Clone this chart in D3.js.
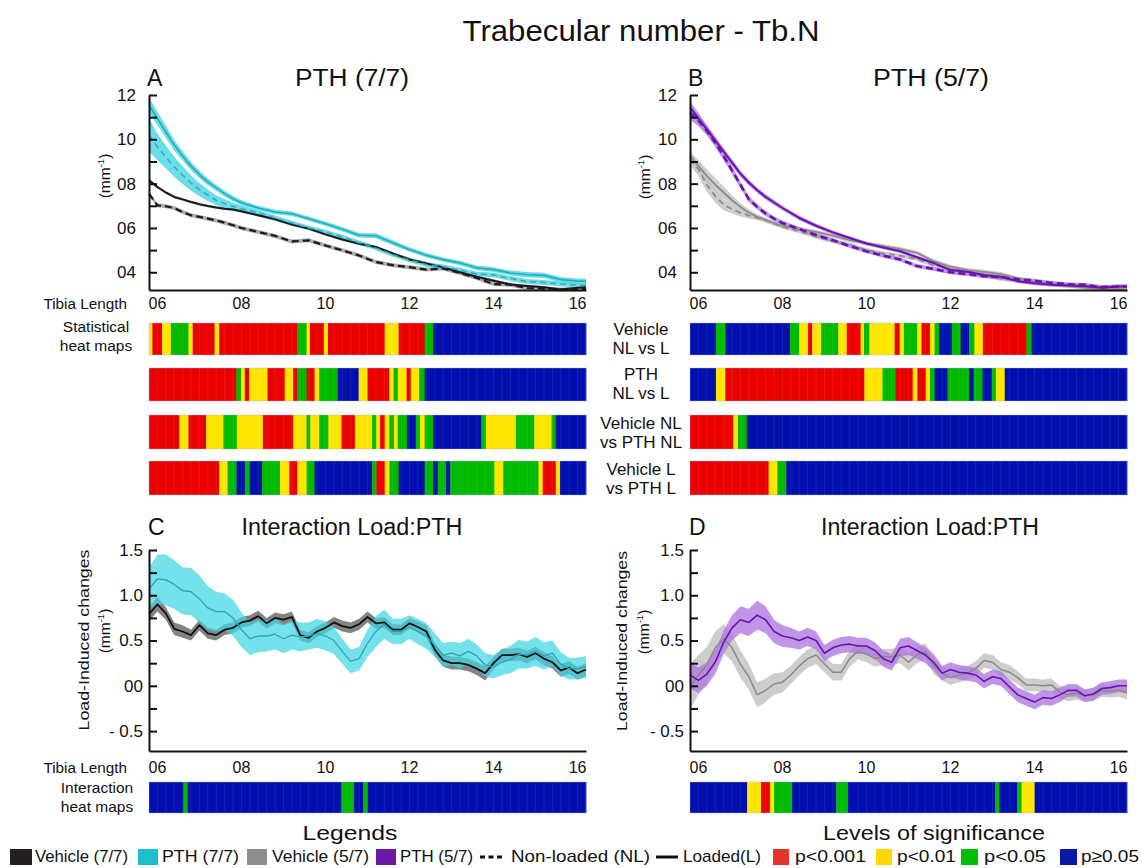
<!DOCTYPE html>
<html>
<head>
<meta charset="utf-8">
<script src="https://cdn.jsdelivr.net/npm/d3@7"></script>
<style>
  body { margin: 0; background: #fff; }
  svg { display: block; }
</style>
</head>
<body>
<svg id="fig" width="1142" height="868"></svg>
<script>
// ---- data ----
const xsTop = [5.8, 6.0, 6.2, 6.4, 6.6, 6.8, 7.0, 7.2, 7.4, 7.6, 7.8, 8.0, 8.4, 8.8, 9.2, 9.6, 10.0, 10.4, 10.8, 11.2, 11.6, 12.0, 12.4, 12.8, 13.2, 13.6, 14.0, 14.4, 14.8, 15.2, 15.6, 16.0, 16.2]

// panel A, PTH (7/7)
const vehL77 = [8.15, 7.85, 7.6, 7.4, 7.29, 7.17, 7.07, 6.99, 6.92, 6.87, 6.83, 6.75, 6.57, 6.39, 6.15, 5.97, 5.71, 5.48, 5.29, 5.14, 4.85, 4.58, 4.4, 4.22, 4.0, 3.8, 3.62, 3.45, 3.38, 3.32, 3.22, 3.3, 3.32]
const vehL77Sd = [0.08, 0.07, 0.06, 0.06, 0.06, 0.06, 0.06, 0.06, 0.06, 0.06, 0.06, 0.06, 0.06, 0.06, 0.06, 0.06, 0.06, 0.06, 0.06, 0.06, 0.06, 0.06, 0.07, 0.07, 0.07, 0.07, 0.06, 0.06, 0.06, 0.06, 0.06, 0.06, 0.06]
const vehNL77 = [7.55, 7.02, 6.98, 6.9, 6.72, 6.57, 6.5, 6.42, 6.34, 6.24, 6.12, 6.0, 5.82, 5.64, 5.39, 5.44, 5.21, 4.99, 4.76, 4.46, 4.32, 4.23, 4.12, 4.17, 3.97, 3.74, 3.47, 3.44, 3.29, 3.26, 3.22, 3.22, 3.25]
const vehNL77Sd = [0.1, 0.09, 0.09, 0.09, 0.09, 0.09, 0.09, 0.09, 0.09, 0.09, 0.09, 0.09, 0.09, 0.09, 0.09, 0.09, 0.09, 0.09, 0.09, 0.09, 0.09, 0.09, 0.09, 0.09, 0.09, 0.09, 0.09, 0.09, 0.09, 0.09, 0.09, 0.09, 0.09]
const pthL77 = [11.55, 10.94, 10.34, 9.74, 9.25, 8.79, 8.41, 8.08, 7.81, 7.55, 7.32, 7.14, 6.9, 6.72, 6.64, 6.42, 6.19, 5.94, 5.67, 5.65, 5.33, 5.03, 4.77, 4.57, 4.42, 4.2, 4.12, 3.97, 3.89, 3.86, 3.67, 3.6, 3.6]
const pthL77Sd = [0.35, 0.3, 0.27, 0.24, 0.21, 0.19, 0.17, 0.15, 0.14, 0.13, 0.12, 0.11, 0.1, 0.1, 0.1, 0.1, 0.1, 0.1, 0.1, 0.11, 0.11, 0.1, 0.1, 0.1, 0.1, 0.11, 0.11, 0.11, 0.12, 0.12, 0.12, 0.12, 0.12]
const pthNL77 = [10.2, 9.65, 9.2, 8.76, 8.38, 8.03, 7.73, 7.48, 7.25, 7.1, 6.98, 6.87, 6.68, 6.45, 6.22, 6.0, 5.82, 5.59, 5.33, 5.09, 4.8, 4.55, 4.35, 4.25, 4.1, 3.92, 3.88, 3.72, 3.58, 3.54, 3.47, 3.42, 3.42]
const pthNL77Sd = [0.75, 0.6, 0.52, 0.45, 0.4, 0.35, 0.3, 0.26, 0.22, 0.19, 0.16, 0.14, 0.12, 0.11, 0.1, 0.1, 0.1, 0.1, 0.1, 0.1, 0.1, 0.1, 0.1, 0.1, 0.1, 0.1, 0.11, 0.11, 0.11, 0.11, 0.11, 0.11, 0.11]

// panel B, PTH (5/7)
const vehL57 = [9.25, 8.8, 8.35, 7.95, 7.6, 7.25, 6.95, 6.7, 6.5, 6.35, 6.22, 6.1, 5.95, 5.82, 5.65, 5.45, 5.3, 5.18, 5.05, 4.88, 4.5, 4.25, 4.1, 4.02, 3.92, 3.72, 3.55, 3.45, 3.38, 3.3, 3.25, 3.22, 3.22]
const vehL57Sd = [0.22, 0.26, 0.3, 0.3, 0.27, 0.22, 0.17, 0.14, 0.12, 0.1, 0.1, 0.09, 0.09, 0.09, 0.09, 0.09, 0.09, 0.09, 0.09, 0.09, 0.09, 0.09, 0.09, 0.09, 0.09, 0.09, 0.09, 0.09, 0.09, 0.09, 0.09, 0.09, 0.09]
const vehNL57 = [9.1, 8.65, 7.95, 7.45, 7.05, 6.85, 6.68, 6.56, 6.46, 6.36, 6.2, 6.05, 5.85, 5.6, 5.4, 5.25, 5.0, 4.85, 4.75, 4.6, 4.32, 4.15, 4.02, 3.85, 3.7, 3.62, 3.55, 3.5, 3.42, 3.38, 3.3, 3.27, 3.28]
const vehNL57Sd = [0.25, 0.3, 0.32, 0.3, 0.26, 0.2, 0.16, 0.13, 0.11, 0.1, 0.1, 0.09, 0.09, 0.09, 0.09, 0.09, 0.09, 0.09, 0.09, 0.09, 0.09, 0.09, 0.09, 0.09, 0.09, 0.09, 0.09, 0.09, 0.09, 0.09, 0.09, 0.09, 0.09]
const pthL57 = [11.45, 10.95, 10.45, 9.95, 9.45, 8.95, 8.45, 8.05, 7.7, 7.4, 7.15, 6.9, 6.45, 6.1, 5.8, 5.55, 5.3, 5.12, 4.95, 4.68, 4.42, 4.1, 4.02, 3.88, 3.8, 3.6, 3.5, 3.44, 3.4, 3.37, 3.3, 3.36, 3.36]
const pthL57Sd = [0.28, 0.24, 0.2, 0.18, 0.16, 0.15, 0.14, 0.13, 0.12, 0.12, 0.11, 0.1, 0.1, 0.09, 0.09, 0.08, 0.08, 0.08, 0.08, 0.08, 0.08, 0.08, 0.08, 0.08, 0.08, 0.08, 0.08, 0.08, 0.08, 0.08, 0.09, 0.09, 0.09]
const pthNL57 = [11.2, 10.85, 10.4, 9.85, 9.25, 8.6, 7.95, 7.3, 6.95, 6.65, 6.42, 6.22, 5.95, 5.68, 5.45, 5.18, 4.95, 4.75, 4.58, 4.28, 4.15, 4.0, 3.92, 3.82, 3.78, 3.68, 3.62, 3.52, 3.46, 3.43, 3.33, 3.36, 3.36]
const pthNL57Sd = [0.3, 0.26, 0.22, 0.2, 0.18, 0.16, 0.15, 0.14, 0.12, 0.11, 0.1, 0.1, 0.09, 0.09, 0.09, 0.09, 0.09, 0.09, 0.09, 0.09, 0.09, 0.09, 0.09, 0.09, 0.09, 0.09, 0.09, 0.09, 0.09, 0.09, 0.09, 0.09, 0.09]

// panels C and D, load-induced changes
const xsInt = [5.8, 6.0, 6.2, 6.4, 6.6, 6.8, 7.0, 7.2, 7.4, 7.6, 7.8, 8.0, 8.2, 8.4, 8.6, 8.8, 9.0, 9.2, 9.4, 9.6, 9.8, 10.0, 10.2, 10.4, 10.6, 10.8, 11.0, 11.2, 11.4, 11.6, 11.8, 12.0, 12.2, 12.4, 12.6, 12.8, 13.0, 13.2, 13.4, 13.6, 13.8, 14.0, 14.2, 14.4, 14.6, 14.8, 15.0, 15.2, 15.4, 15.6, 15.8, 16.0, 16.2]
const intVeh77 = [0.79, 0.9, 0.8, 0.63, 0.6, 0.56, 0.67, 0.58, 0.56, 0.62, 0.64, 0.7, 0.72, 0.77, 0.69, 0.75, 0.73, 0.76, 0.56, 0.53, 0.6, 0.64, 0.7, 0.66, 0.64, 0.68, 0.76, 0.69, 0.7, 0.62, 0.62, 0.69, 0.65, 0.6, 0.4, 0.28, 0.25, 0.25, 0.23, 0.19, 0.14, 0.25, 0.34, 0.34, 0.35, 0.32, 0.36, 0.3, 0.26, 0.17, 0.2, 0.14, 0.18]
const intVeh77Sd = [0.08, 0.08, 0.07, 0.07, 0.07, 0.06, 0.06, 0.06, 0.06, 0.06, 0.06, 0.06, 0.06, 0.06, 0.06, 0.06, 0.06, 0.06, 0.06, 0.06, 0.06, 0.06, 0.06, 0.06, 0.06, 0.06, 0.06, 0.06, 0.06, 0.06, 0.06, 0.06, 0.06, 0.07, 0.07, 0.07, 0.07, 0.07, 0.07, 0.07, 0.08, 0.07, 0.07, 0.07, 0.07, 0.07, 0.07, 0.07, 0.07, 0.07, 0.07, 0.07, 0.07]
const intPth77 = [1.07, 1.18, 1.17, 1.12, 1.05, 1.04, 0.96, 0.86, 0.82, 0.82, 0.75, 0.62, 0.52, 0.55, 0.55, 0.57, 0.52, 0.56, 0.54, 0.55, 0.58, 0.55, 0.5, 0.38, 0.27, 0.3, 0.47, 0.6, 0.68, 0.6, 0.6, 0.65, 0.6, 0.55, 0.45, 0.34, 0.36, 0.33, 0.38, 0.33, 0.23, 0.21, 0.26, 0.29, 0.35, 0.34, 0.38, 0.33, 0.36, 0.24, 0.19, 0.19, 0.21]
const intPth77Sd = [0.23, 0.27, 0.28, 0.27, 0.26, 0.26, 0.26, 0.24, 0.22, 0.2, 0.2, 0.19, 0.18, 0.18, 0.17, 0.17, 0.16, 0.16, 0.16, 0.15, 0.16, 0.16, 0.15, 0.14, 0.13, 0.13, 0.15, 0.17, 0.16, 0.14, 0.14, 0.13, 0.14, 0.14, 0.13, 0.13, 0.13, 0.14, 0.14, 0.13, 0.13, 0.13, 0.14, 0.15, 0.16, 0.15, 0.16, 0.15, 0.14, 0.13, 0.12, 0.12, 0.12]
const intVeh57 = [-0.01, 0.12, 0.23, 0.42, 0.52, 0.42, 0.24, 0.1, -0.1, -0.05, 0.02, 0.04, 0.12, 0.22, 0.3, 0.34, 0.24, 0.15, 0.15, 0.3, 0.38, 0.35, 0.3, 0.32, 0.32, 0.34, 0.26, 0.34, 0.38, 0.22, 0.14, 0.09, 0.12, 0.14, 0.19, 0.28, 0.26, 0.18, 0.15, 0.09, 0.01, 0.01, 0, 0.01, -0.07, -0.1, -0.08, -0.11, -0.1, -0.05, -0.06, -0.05, -0.08]
const intVeh57Sd = [0.25, 0.22, 0.2, 0.18, 0.16, 0.15, 0.15, 0.14, 0.14, 0.13, 0.12, 0.11, 0.1, 0.1, 0.1, 0.1, 0.09, 0.09, 0.09, 0.09, 0.09, 0.09, 0.09, 0.09, 0.09, 0.09, 0.09, 0.09, 0.09, 0.09, 0.08, 0.08, 0.08, 0.08, 0.08, 0.08, 0.08, 0.08, 0.08, 0.07, 0.07, 0.07, 0.07, 0.07, 0.07, 0.07, 0.07, 0.07, 0.07, 0.07, 0.07, 0.07, 0.07]
const intPth57 = [0.12, 0.06, 0.13, 0.26, 0.48, 0.64, 0.73, 0.7, 0.78, 0.73, 0.6, 0.55, 0.53, 0.5, 0.54, 0.5, 0.36, 0.42, 0.45, 0.46, 0.44, 0.44, 0.39, 0.3, 0.26, 0.42, 0.44, 0.39, 0.34, 0.26, 0.14, 0.18, 0.15, 0.14, 0.12, 0.05, 0.1, 0.08, -0.01, -0.1, -0.14, -0.18, -0.13, -0.14, -0.1, -0.05, -0.05, -0.11, -0.09, -0.03, -0.02, 0, 0]
const intPth57Sd = [0.15, 0.14, 0.13, 0.13, 0.13, 0.14, 0.15, 0.15, 0.16, 0.15, 0.13, 0.12, 0.11, 0.1, 0.1, 0.1, 0.09, 0.09, 0.09, 0.09, 0.09, 0.09, 0.09, 0.09, 0.09, 0.1, 0.1, 0.09, 0.09, 0.09, 0.08, 0.08, 0.08, 0.08, 0.08, 0.08, 0.08, 0.08, 0.08, 0.08, 0.08, 0.08, 0.08, 0.08, 0.08, 0.07, 0.07, 0.07, 0.07, 0.07, 0.07, 0.07, 0.07]

// heat maps: runs of [end tibia length, level], each row starts at 5.8
const heatA = [
  [[5.88, "Y"], [6.11, "R"], [6.32, "Y"], [6.74, "G"], [6.84, "Y"], [7.36, "R"], [7.47, "Y"], [9.33, "R"], [9.55, "G"], [9.63, "Y"], [9.96, "R"], [10.06, "Y"], [11.41, "R"], [11.74, "Y"], [12.36, "R"], [12.56, "G"], [16.2, "B"]],
  [[7.88, "R"], [7.99, "G"], [8.08, "Y"], [8.18, "R"], [8.62, "Y"], [9.03, "R"], [9.23, "Y"], [9.33, "R"], [9.55, "G"], [9.74, "R"], [9.85, "Y"], [10.29, "G"], [10.79, "B"], [11.0, "Y"], [11.52, "R"], [11.62, "Y"], [11.72, "G"], [11.93, "Y"], [12.03, "R"], [12.23, "Y"], [12.36, "G"], [16.2, "B"]],
  [[6.52, "R"], [6.74, "Y"], [7.16, "R"], [7.57, "Y"], [7.89, "G"], [8.51, "Y"], [9.23, "R"], [9.55, "Y"], [9.64, "G"], [9.85, "Y"], [10.07, "G"], [10.38, "Y"], [10.7, "R"], [11.11, "Y"], [11.21, "G"], [11.3, "Y"], [11.41, "R"], [11.52, "Y"], [11.63, "G"], [11.72, "Y"], [11.94, "G"], [12.15, "B"], [12.25, "G"], [12.36, "Y"], [12.56, "G"], [13.71, "B"], [13.82, "G"], [14.53, "Y"], [14.97, "G"], [15.38, "Y"], [15.48, "G"], [16.2, "B"]],
  [[7.47, "R"], [7.67, "Y"], [7.88, "G"], [8.08, "B"], [8.19, "G"], [8.49, "B"], [8.92, "G"], [9.14, "Y"], [9.33, "R"], [9.55, "Y"], [9.74, "G"], [11.11, "B"], [11.21, "G"], [11.41, "R"], [11.52, "Y"], [11.74, "G"], [12.36, "B"], [12.56, "G"], [12.67, "B"], [12.87, "G"], [12.97, "B"], [14.02, "G"], [14.23, "Y"], [15.07, "G"], [15.17, "Y"], [15.48, "R"], [15.58, "Y"], [16.2, "B"]]
]
const heatB = [
  [[6.42, "B"], [6.64, "G"], [8.18, "B"], [8.4, "G"], [8.61, "Y"], [8.71, "R"], [8.92, "Y"], [9.33, "G"], [9.53, "Y"], [9.86, "R"], [9.94, "Y"], [10.07, "G"], [10.67, "Y"], [10.79, "R"], [10.89, "Y"], [11.21, "G"], [11.31, "Y"], [11.51, "R"], [11.62, "Y"], [11.73, "G"], [12.03, "B"], [12.24, "G"], [12.44, "B"], [12.57, "G"], [12.77, "Y"], [13.81, "R"], [13.93, "G"], [16.2, "B"]],
  [[6.42, "B"], [6.64, "Y"], [9.95, "R"], [10.38, "Y"], [10.69, "G"], [11.1, "R"], [11.21, "Y"], [11.41, "R"], [11.51, "Y"], [11.62, "G"], [11.93, "B"], [12.44, "G"], [12.55, "B"], [12.76, "G"], [12.98, "B"], [13.08, "G"], [13.29, "Y"], [16.2, "B"]],
  [[6.83, "R"], [6.94, "Y"], [7.15, "G"], [16.2, "B"]],
  [[7.67, "R"], [7.88, "Y"], [8.09, "G"], [16.2, "B"]]
]
const heatIntC = [[6.62, "B"], [6.72, "G"], [10.38, "B"], [10.68, "G"], [10.9, "B"], [11.0, "G"], [16.2, "B"]]
const heatIntD = [[7.16, "B"], [7.49, "Y"], [7.7, "R"], [7.8, "Y"], [8.23, "G"], [9.28, "B"], [9.56, "G"], [13.06, "B"], [13.16, "G"], [13.59, "B"], [13.69, "G"], [14.0, "Y"], [16.2, "B"]]

const heatLabelsB = [["Vehicle", "NL vs L"], ["PTH", "NL vs L"], ["Vehicle NL", "vs PTH NL"], ["Vehicle L", "vs PTH L"]]

const xTickValues = [6, 8, 10, 12, 14, 16]
const xTickLabels = ["06", "08", "10", "12", "14", "16"]
const topTickValues = [4, 5, 6, 7, 8, 9, 10, 11, 12]
const topTickLabels = ["04", "", "06", "", "08", "", "10", "", "12"]
const intTickValues = [-0.5, -0.25, 0, 0.25, 0.5, 0.75, 1, 1.25, 1.5]
const intTickLabels = ["- 0.5", "", "00", "", "0.5", "", "1.0", "", "1.5"]

const legendLabels = ["Vehicle (7/7)", "PTH (7/7)", "Vehicle (5/7)", "PTH (5/7)", "Non-loaded (NL)", "Loaded(L)", "p<0.001", "p<0.01", "p<0.05", "p\u22650.05"]

// ---- drawing ----
const FONT = '"Liberation Sans", Arial, Helvetica, sans-serif'
const svg = d3.select("#fig").attr("font-family", FONT)

const sigColor = { R: "#eb0000", Y: "#ffe600", G: "#00ba00", B: "#0010ae" }
const st = {
  veh77: { line: "#1a1a1a", band: "#8a8a8a", op: 0.7 },
  pth77: { line: "#28aab8", band: "#45d6e2", op: 0.8 },
  veh57: { line: "#8c8c8c", band: "#c2c2c2", op: 0.8 },
  pth57: { line: "#6a14b0", band: "#b27ade", op: 0.8 }
}

const xA = d3.scaleLinear().domain([5.8, 16.2]).range([149, 586])
const xB = d3.scaleLinear().domain([5.8, 16.2]).range([690, 1127])
const yTop = d3.scaleLinear().domain([3.2, 12]).range([290, 95])
const yInt = d3.scaleLinear().domain([-0.72, 1.5]).range([751, 550])

function txt(x, y, s, size, anchor, width) {
  const t = svg.append("text").attr("x", x).attr("y", y).attr("font-size", size)
    .attr("text-anchor", anchor || "start").attr("fill", "#111").text(s)
  if (width) t.attr("textLength", width).attr("lengthAdjust", "spacingAndGlyphs")
  return t
}

function vtxt(x, y, size, width, parts) {
  const t = svg.append("text").attr("transform", `translate(${x},${y}) rotate(-90)`)
    .attr("font-size", size).attr("text-anchor", "middle").attr("fill", "#111")
  if (width) t.attr("textLength", width).attr("lengthAdjust", "spacingAndGlyphs")
  parts(t)
  return t
}

function mmUnit(t) {
  t.append("tspan").text("(mm")
  t.append("tspan").attr("font-size", "0.62em").attr("dy", -6).text("-1")
  t.append("tspan").attr("dy", 6).text(")")
}

function band(g, x, y, xs, vals, sd, s) {
  const pts = xs.map((t, i) => ({ t, v: vals[i], s: sd[i] }))
  g.append("path").datum(pts)
    .attr("fill", s.band).attr("fill-opacity", s.op)
    .attr("d", d3.area().x(d => x(d.t)).y0(d => y(d.v - d.s)).y1(d => y(d.v + d.s)))
}

function line(g, x, y, xs, vals, color, width, dash) {
  g.append("path").datum(xs.map((t, i) => ({ t, v: vals[i] })))
    .attr("fill", "none").attr("stroke", color).attr("stroke-width", width)
    .attr("stroke-dasharray", dash || null).attr("stroke-linejoin", "round")
    .attr("d", d3.line().x(d => x(d.t)).y(d => y(d.v)))
}

function yAxis(x, y, values, labels, pad) {
  const g = svg.append("g").attr("transform", `translate(${x.range()[0]},0)`)
    .call(d3.axisLeft(y).tickValues(values).tickSize(-8).tickSizeOuter(0).tickPadding(pad)
      .tickFormat(d => labels[values.indexOf(d)]))
  g.select(".domain").attr("stroke", "#111").attr("stroke-width", 2)
  g.selectAll(".tick line").attr("stroke", "#111").attr("stroke-width", 2)
  g.selectAll("text").attr("font-size", 17).attr("font-family", FONT).attr("fill", "#111")
}

function xAxis(x, yPos) {
  svg.append("g").attr("transform", `translate(0,${yPos})`)
    .call(d3.axisBottom(x).tickValues([]).tickSizeOuter(0))
    .select(".domain").attr("stroke", "#111").attr("stroke-width", 2)
}

function xLabels(x, yBase) {
  xTickValues.forEach((v, i) => txt(x(v), yBase, xTickLabels[i], 16, "middle"))
}

function heatRow(x, y0, y1, runs) {
  const g = svg.append("g")
  let start = 5.8
  runs.forEach(([end, code]) => {
    g.append("rect").attr("x", x(start)).attr("y", y0)
      .attr("width", x(end) - x(start) + 0.4).attr("height", y1 - y0).attr("fill", sigColor[code])
    start = end
  })
  // faint cell dividers
  d3.range(6.0, 16.2, 0.2).forEach(v => {
    g.append("line").attr("x1", x(v)).attr("x2", x(v)).attr("y1", y0).attr("y2", y1)
      .attr("stroke", "#ffffff").attr("stroke-opacity", 0.08).attr("stroke-width", 1)
  })
  g.append("rect").attr("x", x(5.8)).attr("y", y0).attr("width", x(16.2) - x(5.8)).attr("height", y1 - y0)
    .attr("fill", "none").attr("stroke", "#a9b2ee").attr("stroke-opacity", 0.5).attr("stroke-width", 0.8)
}

// title
txt(641, 41, "Trabecular number - Tb.N", 30, "middle", 357)

// ---- panel A ----
txt(147, 86, "A", 23)
txt(352, 86, "PTH (7/7)", 23, "middle", 114)
const gA = svg.append("g")
band(gA, xA, yTop, xsTop, vehL77, vehL77Sd, st.veh77)
band(gA, xA, yTop, xsTop, vehNL77, vehNL77Sd, st.veh77)
band(gA, xA, yTop, xsTop, pthNL77, pthNL77Sd, st.pth77)
band(gA, xA, yTop, xsTop, pthL77, pthL77Sd, st.pth77)
line(gA, xA, yTop, xsTop, vehNL77, "#1a1a1a", 2.2, "7,4")
line(gA, xA, yTop, xsTop, vehL77, "#1a1a1a", 2)
line(gA, xA, yTop, xsTop, pthNL77, "#3aa6b4", 1.5, "6,4")
line(gA, xA, yTop, xsTop, pthL77, "#28aab8", 1.6)
yAxis(xA, yTop, topTickValues, topTickLabels, 13)
xAxis(xA, 290)
vtxt(110, 176, 15.5, null, mmUnit)

// ---- panel B ----
txt(688, 86, "B", 23)
txt(931, 86, "PTH (5/7)", 23, "middle", 116)
const gB = svg.append("g")
band(gB, xB, yTop, xsTop, vehNL57, vehNL57Sd, st.veh57)
band(gB, xB, yTop, xsTop, vehL57, vehL57Sd, st.veh57)
band(gB, xB, yTop, xsTop, pthNL57, pthNL57Sd, st.pth57)
band(gB, xB, yTop, xsTop, pthL57, pthL57Sd, st.pth57)
line(gB, xB, yTop, xsTop, vehNL57, "#8c8c8c", 1.8, "6,4")
line(gB, xB, yTop, xsTop, vehL57, "#8c8c8c", 1.8)
line(gB, xB, yTop, xsTop, pthNL57, "#6a14b0", 2.6, "7,4")
line(gB, xB, yTop, xsTop, pthL57, "#6a14b0", 2)
yAxis(xB, yTop, topTickValues, topTickLabels, 13)
xAxis(xB, 290)
vtxt(650, 177, 15.5, null, mmUnit)

// x labels under top panels
txt(127, 309, "Tibia Length", 15.3, "end")
xLabels(xA, 309)
xLabels(xB, 309)

// ---- statistical heat maps ----
const heatRowsY = [[323, 355], [368, 401], [415, 449], [461, 495]]
heatA.forEach((r, i) => heatRow(xA, heatRowsY[i][0], heatRowsY[i][1], r))
heatB.forEach((r, i) => heatRow(xB, heatRowsY[i][0], heatRowsY[i][1], r))
txt(96, 332, "Statistical", 15.5, "middle")
txt(96, 351, "heat maps", 15.5, "middle")
const labelLines = [[335, 354], [380, 399], [429, 448], [475, 494]]
heatLabelsB.forEach((pair, i) => {
  txt(641, labelLines[i][0], pair[0], 17, "middle")
  txt(641, labelLines[i][1], pair[1], 17, "middle")
})

// ---- panel C ----
txt(148, 535, "C", 23)
txt(352, 535, "Interaction Load:PTH", 23, "middle", 221)
const gC = svg.append("g")
band(gC, xA, yInt, xsInt, intVeh77, intVeh77Sd, { band: "#6e6e6e", op: 0.85 })
band(gC, xA, yInt, xsInt, intPth77, intPth77Sd, { band: "#40d6e2", op: 0.72 })
line(gC, xA, yInt, xsInt, intVeh77, "#111", 1.8)
line(gC, xA, yInt, xsInt, intPth77, "#2fa3b3", 1.3)
yAxis(xA, yInt, intTickValues, intTickLabels, 6)
xAxis(xA, 751)
vtxt(89, 640, 15, 181, t => t.text("Load-Induced changes"))
vtxt(110, 631, 15.5, null, mmUnit)

// ---- panel D ----
txt(689, 535, "D", 23)
txt(930, 535, "Interaction Load:PTH", 23, "middle", 218)
const gD = svg.append("g")
band(gD, xB, yInt, xsInt, intVeh57, intVeh57Sd, { band: "#c4c4c4", op: 0.85 })
band(gD, xB, yInt, xsInt, intPth57, intPth57Sd, { band: "#b27ade", op: 0.8 })
line(gD, xB, yInt, xsInt, intVeh57, "#8a8a8a", 1.5)
line(gD, xB, yInt, xsInt, intPth57, "#6a14b0", 1.6)
yAxis(xB, yInt, intTickValues, intTickLabels, 6)
xAxis(xB, 751)
vtxt(627, 641, 15, 180, t => t.text("Load-Induced changes"))
vtxt(649, 632, 15.5, null, mmUnit)

// x labels and interaction heat maps
txt(127, 773, "Tibia Length", 15.3, "end")
xLabels(xA, 773)
xLabels(xB, 773)
heatRow(xA, 782, 813, heatIntC)
heatRow(xB, 782, 813, heatIntD)
txt(97, 793, "Interaction", 15.5, "middle")
txt(97, 812, "heat maps", 15.5, "middle")

// ---- legends ----
txt(350, 840, "Legends", 20.5, "middle", 95)
txt(934, 840, "Levels of significance", 20.5, "middle", 222)

const legendLayout = [
  { kind: "box", color: "#231f20", sx: 10, sw: 22, tx: 35, tw: 93 },
  { kind: "box", color: "#1cbfcc", sx: 138, sw: 20, tx: 162, tw: 77 },
  { kind: "box", color: "#8e8e8e", sx: 247, sw: 20, tx: 272, tw: 97 },
  { kind: "box", color: "#6a1aa6", sx: 376, sw: 20, tx: 400, tw: 73 },
  { kind: "dash", color: "#111", sx: 480, sw: 24, tx: 511, tw: 139 },
  { kind: "solid", color: "#111", sx: 656, sw: 22, tx: 683, tw: 78 },
  { kind: "box", color: "#e8322e", sx: 773, sw: 16, tx: 795, tw: 71 },
  { kind: "box", color: "#ffd800", sx: 876, sw: 16, tx: 897, tw: 59 },
  { kind: "box", color: "#00bd00", sx: 961, sw: 17, tx: 984, tw: 62 },
  { kind: "box", color: "#0a18a8", sx: 1060, sw: 17, tx: 1081, tw: 58 }
]
legendLabels.forEach((lab, i) => {
  const L = legendLayout[i]
  if (L.kind === "box") {
    svg.append("rect").attr("x", L.sx).attr("y", 849).attr("width", L.sw).attr("height", 16).attr("fill", L.color)
  } else {
    svg.append("line").attr("x1", L.sx).attr("x2", L.sx + L.sw).attr("y1", 857).attr("y2", 857)
      .attr("stroke", L.color).attr("stroke-width", 3)
      .attr("stroke-dasharray", L.kind === "dash" ? "5,3.5" : null)
  }
  txt(L.tx, 862, lab, 17, "start", L.tw)
})
</script>
</body>
</html>
